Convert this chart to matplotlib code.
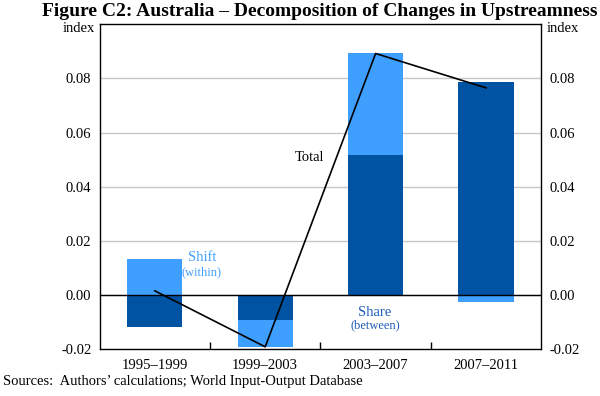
import matplotlib
matplotlib.use("Agg")
import matplotlib.pyplot as plt
import numpy as np

categories = ["1995–1999", "1999–2003", "2003–2007", "2007–2011"]
share = [-0.0119, -0.0093, 0.0517, 0.0788]
shift = [0.0134, -0.0099, 0.0378, -0.0026]
total = [0.0015, -0.0192, 0.0892, 0.0765]
yticks = [-0.02, 0.00, 0.02, 0.04, 0.06, 0.08]

dark = "#0052A3"
light = "#3F9FFF"

plt.rcParams['font.family'] = ['Liberation Serif', 'DejaVu Serif']

fig = plt.figure(figsize=(6, 3.96), dpi=100)
ax = fig.add_axes([0.166, 0.1187, 0.736, 0.82])

x = np.arange(len(categories))
share_a = np.array(share)
shift_a = np.array(shift)
# stacking: shift stacked on share in same direction, otherwise from zero
bottoms = np.where(np.sign(shift_a) == np.sign(share_a), share_a, 0.0)
ax.bar(x, share_a, width=0.5, color=dark, zorder=2)
ax.bar(x, shift_a, width=0.5, bottom=bottoms, color=light, zorder=2)
ax.plot(x, total, color="black", lw=1.2, zorder=4)

ax.set_xlim(-0.5, 3.5)
ax.set_ylim(-0.02, 0.10)
ax.set_yticks(yticks)
ax.set_yticklabels([f"{v:.2f}" for v in yticks])
for v in yticks[1:]:
    ax.axhline(v, color="#c8c8c8", lw=1, zorder=1)
ax.axhline(0, color="black", lw=1, zorder=3)
ax.tick_params(axis='y', length=0, labelsize=10.5, pad=6)
ax.tick_params(axis='y', which='both', labelright=True, right=False)
ax.set_xticks(x)
ax.set_xticklabels(categories)
ax.tick_params(axis='x', length=0, labelsize=10.5, pad=7)
ax.set_xticks([0.5, 1.5, 2.5], minor=True)
ax.tick_params(axis='x', which='minor', direction='in', length=5, width=1)
for s in ax.spines.values():
    s.set_linewidth(1)

ax.text(0.425, 0.0137, "Shift", color=light, ha="center", va="center", fontsize=10.5)
ax.text(0.425, 0.0082, "(within)", color=light, ha="center", va="center", fontsize=9)
ax.text(1.405, 0.0507, "Total", color="black", ha="center", va="center", fontsize=10.5)
ax.text(1.994, -0.0065, "Share", color="#1F5DB8", ha="center", va="center", fontsize=10.5)
ax.text(1.994, -0.0112, "(between)", color="#1F5DB8", ha="center", va="center", fontsize=9)

fig.text(95/600, 1 - 28/396, "index", ha="right", va="center", fontsize=10.5)
fig.text(547/600, 1 - 28/396, "index", ha="left", va="center", fontsize=10.5)
fig.text(0.533, 1 - 12/396, "Figure C2: Australia – Decomposition of Changes in Upstreamness",
         ha="center", va="center", fontsize=14, fontweight="bold")
fig.text(3/600, 1 - 382/396, "Sources:  Authors’ calculations; World Input-Output Database",
         ha="left", va="center", fontsize=10.5)

fig.savefig("out.png", dpi=100)
